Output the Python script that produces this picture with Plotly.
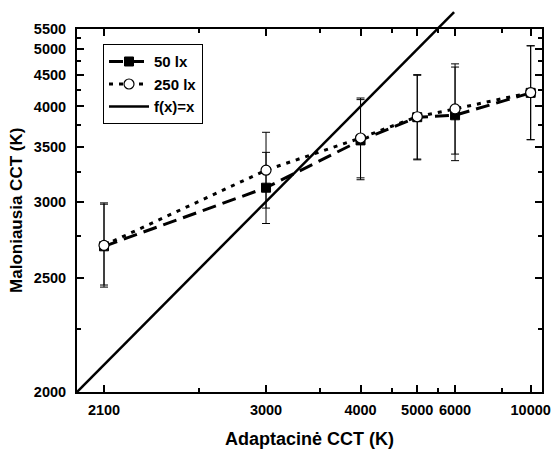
import plotly.graph_objects as go

# ---------------- data (K) ----------------
adapt_cct = [2100, 3000, 4000, 5000, 6000, 10000]
pref_50 = [2685, 3114, 3575, 3855, 3880, 4200]
pref_50_hi = [2980, 3446, 4098, 4490, 4640, 5079]
pref_50_lo = [2461, 2837, 3183, 3370, 3362, 3583]
pref_250 = [2691, 3270, 3602, 3861, 3966, 4205]
pref_250_hi = [2990, 3668, 4122, 4502, 4701, 5079]
pref_250_lo = [2450, 2950, 3200, 3378, 3428, 3583]
identity_x = [2000, 5970]

x_major = [2100, 3000, 4000, 5000, 6000, 10000]
x_minor = [2550, 3500, 4500, 5500, 8000]
y_major = [2000, 2500, 3000, 3500, 4000, 4500, 5000, 5500]
y_minor = [2250, 2750, 3250, 3750, 4250, 4750, 5250]


def rec(vals):
    # reciprocal (mired) scale: 1e6 / T
    return [1e6 / v for v in vals]


def errs(center, hi, lo):
    c = rec(center)
    h = rec(hi)
    l = rec(lo)
    plus = [b - a for a, b in zip(c, l)]
    minus = [a - b for a, b in zip(c, h)]
    return plus, minus


# ---------------- geometry ----------------
W, H = 554, 451
ml, mr, mt, mb = 77, 12, 0, 59
plot_h = H - mt - mb
main_top_px = 21
d_top = (H - mb - main_top_px) / plot_h
y_lo_m, y_hi_m = 1e6 / 2000, 1e6 / 5500
ppm = (H - mb - main_top_px) / (y_lo_m - y_hi_m)
y2_top = y_lo_m - plot_h / ppm

FONT = "Arial, Liberation Sans, sans-serif"

p50, m50 = errs(pref_50, pref_50_hi, pref_50_lo)
p250, m250 = errs(pref_250, pref_250_hi, pref_250_lo)

fig = go.Figure()
fig.add_trace(go.Scatter(
    x=rec(adapt_cct), y=rec(pref_50), name="50 lx", mode="lines+markers",
    line=dict(color="black", width=3, dash="14px,7px"),
    marker=dict(symbol="square", size=9, color="black", line=dict(color="black", width=1)),
    error_y=dict(type="data", array=p50, arrayminus=m50, color="black", thickness=1, width=4),
))
fig.add_trace(go.Scatter(
    x=rec(adapt_cct), y=rec(pref_250), name="250 lx", mode="lines+markers",
    line=dict(color="black", width=3, dash="4px,6px"),
    marker=dict(symbol="circle", size=10, color="white", line=dict(color="black", width=1.2)),
    error_y=dict(type="data", array=p250, arrayminus=m250, color="black", thickness=1, width=4),
))
fig.add_trace(go.Scatter(
    x=rec(identity_x), y=rec(identity_x), name="f(x)=x", mode="lines",
    line=dict(color="black", width=2.5), yaxis="y2",
))

axis_common = dict(
    showgrid=False, zeroline=False, showline=True, linecolor="black", linewidth=2,
    mirror="ticks", ticks="inside", ticklen=7, tickwidth=1.5, tickcolor="black",
    tickmode="array", tickfont=dict(family=FONT, size=14.5, color="black", weight="bold"),
)

fig.update_layout(
    width=W, height=H,
    margin=dict(l=ml, r=mr, t=mt, b=mb),
    paper_bgcolor="white", plot_bgcolor="rgba(0,0,0,0)",
    font=dict(family=FONT, color="black"),
    xaxis=dict(
        **axis_common,
        range=[1e6 / 2000, 90],
        tickvals=rec(x_major), ticktext=[str(v) for v in x_major],
        minor=dict(tickmode="array", tickvals=rec(x_minor), ticks="inside", ticklen=4,
                   tickwidth=1.5, tickcolor="black", showgrid=False),
        ticklabelstandoff=4,
        title=dict(text="Adaptacinė CCT (K)", standoff=15,
                   font=dict(family=FONT, size=18, color="black", weight="bold")),
        anchor="y",
    ),
    yaxis=dict(
        **axis_common,
        domain=[0, d_top],
        range=[y_lo_m, y_hi_m],
        tickvals=rec(y_major), ticktext=[str(v) for v in y_major],
        minor=dict(tickmode="array", tickvals=rec(y_minor), ticks="inside", ticklen=4,
                   tickwidth=1.5, tickcolor="black", showgrid=False),
        ticklabelstandoff=6,
        title=dict(text="Maloniausia CCT (K)", standoff=7,
                   font=dict(family=FONT, size=17, color="black", weight="bold")),
        anchor="x",
    ),
    yaxis2=dict(domain=[0, 1], range=[y_lo_m, y2_top], visible=False, anchor="x",
                showgrid=False, zeroline=False),
    legend=dict(
        x=(103 - ml) / (W - ml - mr), y=(H - mb - 37) / plot_h,
        xanchor="left", yanchor="top",
        bordercolor="black", borderwidth=1, bgcolor="white",
        font=dict(family=FONT, size=15, color="black", weight="bold"),
        itemwidth=40, tracegroupgap=0,
    ),
    showlegend=True,
)

fig.write_html("out.html")
